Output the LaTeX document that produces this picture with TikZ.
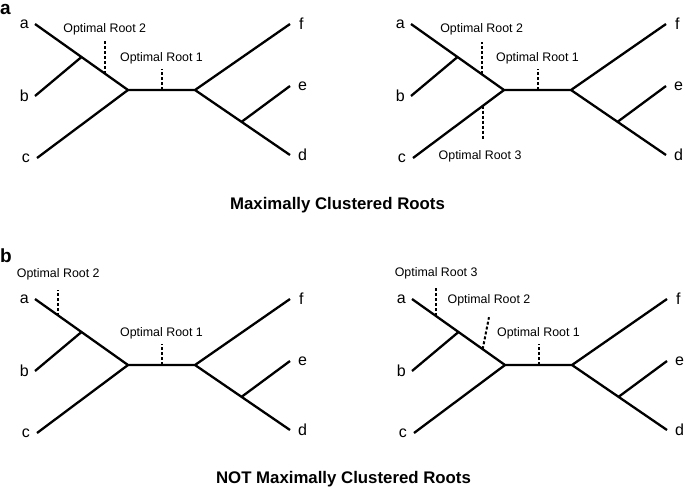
\documentclass[tikz,border=0pt]{standalone}
\usepackage{fontspec}
\setmainfont{Liberation Sans}
\usetikzlibrary{positioning,calc}

\begin{document}
\begin{tikzpicture}[x=1pt,y=-1pt,
	branch/.style={line width=2.3pt,line join=miter},
	rootmark/.style={line width=2pt,dash pattern=on 3pt off 2pt},
	leaflabel/.style={inner sep=0pt,font=\fontsize{16}{18}\selectfont},
	rootlabel/.style={inner sep=0pt,font=\fontsize{12.4}{14}\selectfont},
	caption/.style={inner sep=0pt,font=\fontsize{16.8}{19}\selectfont\bfseries},
	panel/.style={inner sep=0pt,anchor=base west,font=\fontsize{19}{21}\selectfont\bfseries}]
	
	\useasboundingbox (0,0) rectangle (685,491);
	
	\newcommand{\unrootedtree}{%
		\coordinate (a) at (35,24);
		\coordinate (b) at (35,96);
		\coordinate (c) at (37,158);
		\coordinate (f) at (290,24);
		\coordinate (e) at (290,86);
		\coordinate (d) at (290,155);
		\coordinate (L) at (128,90);
		\coordinate (R) at (195,90);
		\coordinate (J1) at ($(a)!0.5!(L)$);
		\coordinate (J2) at ($(R)!0.49!(d)$);
		
		\node[leaflabel,left=6pt of a] (la) {a};
		\node[leaflabel,left=6pt of b] (lb) {b};
		\node[leaflabel,left=7pt of c] (lc) {c};
		\node[leaflabel,right=9pt of f] (lf) {f};
		\node[leaflabel,right=8pt of e] (le) {e};
		\node[leaflabel,right=8pt of d] (ld) {d};
		
		\draw[branch] (a) -- (L) -- (R) -- (f);
		\draw[branch] (c) -- (L);
		\draw[branch] (R) -- (d);
		\draw[branch] (b) -- (J1);
		\draw[branch] (e) -- (J2);
		
		\coordinate (r1) at ($(L)!0.5!(R)$);
		\coordinate (r1top) at ($(r1)+(0,-21)$);
		\draw[rootmark] (r1) -- (r1top);
		\node[rootlabel,above=5pt of r1top] (r1label) {Optimal Root 1};
	}
	
	% a: maximally clustered
	\node[panel] (pa) at (0,14) {a};
	
	\begin{scope}[name prefix=AL-]
		\unrootedtree
		\coordinate (r2) at ($(a)!0.75!(L)$);
		\coordinate (r2top) at ($(r2)+(0,-32.5)$);
		\draw[rootmark] (r2) -- (r2top);
		\node[rootlabel,above=6pt of r2top] (r2label) {Optimal Root 2};
	\end{scope}
	
	\begin{scope}[shift={(376,0)},name prefix=AR-]
		\unrootedtree
		\coordinate (r2) at ($(a)!0.76!(L)$);
		\coordinate (r2top) at ($(r2)+(0,-32.5)$);
		\draw[rootmark] (r2) -- (r2top);
		\node[rootlabel,above=6pt of r2top] (r2label) {Optimal Root 2};
		\coordinate (r3) at ($(c)!0.77!(L)$);
		\coordinate (r3bot) at ($(r3)+(0,34)$);
		\draw[rootmark] (r3) -- (r3bot);
		\node[rootlabel,below=11pt of r3bot,xshift=-3pt] (r3label) {Optimal Root 3};
	\end{scope}
	
	\node[caption] (capa) at (337.5,205) {Maximally Clustered Roots};
	
	% b: not maximally clustered
	\node[panel] (pb) at (0,262) {b};
	
	\begin{scope}[shift={(0,275)},name prefix=BL-]
		\unrootedtree
		\coordinate (r2) at ($(a)!0.25!(L)$);
		\coordinate (r2top) at ($(r2)+(0,-26)$);
		\draw[rootmark] (r2) -- (r2top);
		\node[rootlabel,above=9pt of r2top] (r2label) {Optimal Root 2};
	\end{scope}
	
	\begin{scope}[shift={(377,275)},name prefix=BR-]
		\unrootedtree
		\coordinate (r3) at ($(a)!0.26!(L)$);
		\coordinate (r3top) at ($(r3)+(0,-28)$);
		\draw[rootmark] (r3) -- (r3top);
		\node[rootlabel,above=9pt of r3top] (r3label) {Optimal Root 3};
		\coordinate (r2) at ($(a)!0.76!(L)$);
		\coordinate (r2top) at ($(r2)+(6.3,-32)$);
		\draw[rootmark] (r2) -- (r2top);
		\node[rootlabel,above=11pt of r2top] (r2label) {Optimal Root 2};
	\end{scope}
	
	\node[caption] (capb) at (343.5,479) {NOT Maximally Clustered Roots};
	
\end{tikzpicture}
\end{document}
